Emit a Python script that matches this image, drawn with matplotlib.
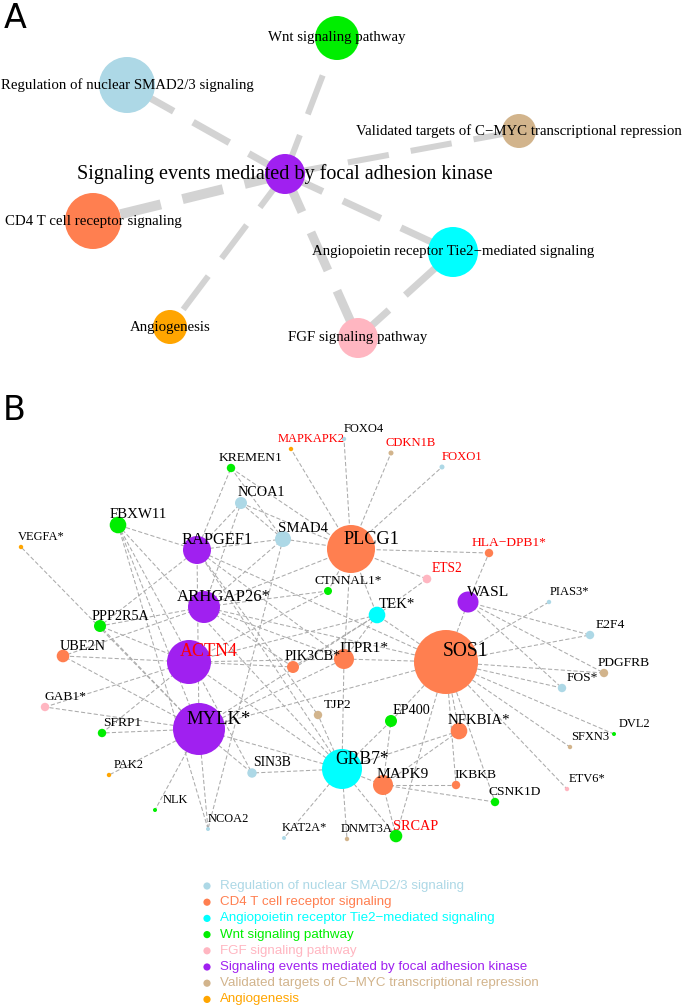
import matplotlib
matplotlib.use("Agg")
import matplotlib.pyplot as plt
from matplotlib.patches import Circle

plt.rcParams['lines.scale_dashes'] = False

# pathways (panel A nodes and legend)
pathways = [
    "Regulation of nuclear SMAD2/3 signaling",
    "CD4 T cell receptor signaling",
    "Angiopoietin receptor Tie2\u2212mediated signaling",
    "Wnt signaling pathway",
    "FGF signaling pathway",
    "Signaling events mediated by focal adhesion kinase",
    "Validated targets of C\u2212MYC transcriptional repression",
    "Angiogenesis",
]
pathway_colors = ["#ADD8E6", "#FF7F50", "#00FFFF", "#00EE00",
                  "#FFB6C1", "#A020F0", "#D2B48C", "#FFA500"]

# panel A layout (pixel coords) and node size
a_x = [127, 93, 453, 337, 358, 285, 519, 170]
a_y = [85, 221, 252, 38, 338, 174, 131, 327]
a_r = [28, 28, 25, 22, 20, 20, 17, 17]
a_edges = [(5, 3, 6), (5, 0, 7), (5, 6, 6), (5, 1, 10),
           (5, 2, 7), (5, 7, 6), (5, 4, 9), (4, 2, 7)]

# panel B genes: name, x, y, size, pathway
genes = ["MAPKAPK2", "FOXO4", "CDKN1B", "FOXO1", "KREMEN1", "NCOA1", "FBXW11",
         "VEGFA*", "SMAD4", "RAPGEF1", "PLCG1", "HLA\u2212DPB1*", "ETS2",
         "CTNNAL1*", "ARHGAP26*", "WASL", "PIAS3*", "TEK*", "PPP2R5A", "E2F4",
         "UBE2N", "ACTN4", "PIK3CB*", "ITPR1*", "SOS1", "PDGFRB", "FOS*",
         "GAB1*", "TJP2", "EP400", "MYLK*", "NFKBIA*", "SFRP1", "DVL2", "SFXN3",
         "GRB7*", "SIN3B", "PAK2", "IKBKB", "MAPK9", "ETV6*", "CSNK1D", "NLK",
         "NCOA2", "SRCAP", "KAT2A*", "DNMT3A"]
g_x = [291, 344, 391, 442, 231, 241, 118, 21, 283, 197, 351, 489, 427,
       328, 204, 468, 549, 377, 100, 590, 63, 189, 293, 344, 446, 604, 562,
       45, 318, 391, 199, 459, 102, 614, 570, 342, 252, 109, 456, 383, 567,
       495, 155, 208, 396, 284, 347]
g_y = [449, 439, 453, 467, 468, 503, 525, 547, 539, 550, 549, 553, 579,
       591, 607, 602, 602, 615, 626, 635, 656, 662, 667, 659, 662, 673, 688,
       707, 715, 721, 729, 731, 733, 734, 747, 769, 773, 775, 785, 785, 789,
       802, 810, 829, 836, 838, 839]
g_size = [2.2, 2.2, 2.5, 2.5, 4.2, 6, 8.3, 2.2, 8, 14, 24, 4.2, 4.3,
          4, 16, 10.5, 2.2, 8.3, 6, 4.2, 6.3, 22, 6, 10, 32, 4.2, 4.2,
          4.2, 4.2, 6, 26, 8.3, 4.2, 2, 2.2, 20, 4.7, 2.2, 4.2, 10, 2.2,
          4.2, 2, 2, 6.3, 2, 2.2]
g_path = [7, 0, 6, 0, 3, 0, 3, 7, 0, 5, 1, 1, 4, 3, 5, 5, 0, 2, 3, 0,
          1, 5, 1, 1, 1, 6, 0, 4, 6, 3, 5, 1, 3, 3, 6, 2, 0, 7, 1, 1, 4,
          3, 3, 0, 3, 0, 6]
red_genes = ["MAPKAPK2", "CDKN1B", "FOXO1", "HLA\u2212DPB1*", "ETS2", "ACTN4", "SRCAP"]

b_edges = [
    ("PLCG1", "MAPKAPK2"), ("PLCG1", "FOXO4"), ("PLCG1", "CDKN1B"), ("PLCG1", "FOXO1"),
    ("PLCG1", "KREMEN1"), ("PLCG1", "NCOA1"), ("PLCG1", "SMAD4"), ("PLCG1", "HLA\u2212DPB1*"),
    ("PLCG1", "ETS2"), ("PLCG1", "ARHGAP26*"), ("PLCG1", "ITPR1*"), ("PLCG1", "TEK*"),
    ("PLCG1", "CTNNAL1*"),
    ("SOS1", "WASL"), ("SOS1", "PIAS3*"), ("SOS1", "E2F4"), ("SOS1", "PDGFRB"),
    ("SOS1", "FOS*"), ("SOS1", "DVL2"), ("SOS1", "SFXN3"), ("SOS1", "ETV6*"),
    ("SOS1", "CSNK1D"), ("SOS1", "IKBKB"), ("SOS1", "NFKBIA*"), ("SOS1", "SRCAP"),
    ("SOS1", "EP400"), ("SOS1", "TEK*"), ("SOS1", "ITPR1*"), ("SOS1", "MYLK*"),
    ("SOS1", "ARHGAP26*"), ("SOS1", "RAPGEF1"),
    ("WASL", "E2F4"), ("WASL", "PDGFRB"), ("WASL", "FOS*"), ("WASL", "HLA\u2212DPB1*"),
    ("NFKBIA*", "GRB7*"), ("NFKBIA*", "MAPK9"),
    ("MAPK9", "GRB7*"), ("MAPK9", "IKBKB"), ("MAPK9", "CSNK1D"), ("MAPK9", "SRCAP"),
    ("MAPK9", "EP400"),
    ("GRB7*", "SIN3B"), ("GRB7*", "KAT2A*"), ("GRB7*", "DNMT3A"), ("GRB7*", "SRCAP"),
    ("GRB7*", "EP400"), ("GRB7*", "TJP2"), ("GRB7*", "ITPR1*"), ("GRB7*", "MYLK*"),
    ("GRB7*", "ACTN4"), ("GRB7*", "RAPGEF1"),
    ("TEK*", "ETS2"), ("TEK*", "ACTN4"), ("TEK*", "MYLK*"), ("TEK*", "ITPR1*"),
    ("RAPGEF1", "FBXW11"), ("RAPGEF1", "SMAD4"), ("RAPGEF1", "NCOA1"), ("RAPGEF1", "KREMEN1"),
    ("RAPGEF1", "PPP2R5A"), ("RAPGEF1", "ITPR1*"), ("RAPGEF1", "TJP2"),
    ("ARHGAP26*", "PPP2R5A"), ("ARHGAP26*", "CTNNAL1*"), ("ARHGAP26*", "SMAD4"),
    ("ARHGAP26*", "NCOA1"), ("ARHGAP26*", "ITPR1*"), ("ARHGAP26*", "UBE2N"),
    ("FBXW11", "GRB7*"), ("FBXW11", "MYLK*"), ("FBXW11", "SIN3B"), ("FBXW11", "NCOA2"),
    ("MYLK*", "GAB1*"), ("MYLK*", "SFRP1"), ("MYLK*", "PAK2"), ("MYLK*", "NLK"),
    ("MYLK*", "NCOA2"), ("MYLK*", "SIN3B"), ("MYLK*", "VEGFA*"), ("MYLK*", "UBE2N"),
    ("MYLK*", "PPP2R5A"), ("MYLK*", "ITPR1*"), ("MYLK*", "RAPGEF1"),
    ("ACTN4", "UBE2N"), ("ACTN4", "PPP2R5A"), ("ACTN4", "GAB1*"), ("ACTN4", "SFRP1"),
    ("ACTN4", "PIK3CB*"), ("ACTN4", "CTNNAL1*"), ("ACTN4", "ITPR1*"),
    ("PIK3CB*", "TEK*"), ("PIK3CB*", "ARHGAP26*"),
    ("SMAD4", "NCOA2"), ("SMAD4", "NCOA1"), ("KREMEN1", "SMAD4"),
]

fig = plt.figure(figsize=(6.85, 10.08), dpi=100)
ax = fig.add_axes([0, 0, 1, 1])
ax.set_xlim(0, 685)
ax.set_ylim(1008, 0)
ax.axis('off')

# ---- panel A ----
for i, j, w in a_edges:
    ax.plot([a_x[i], a_x[j]], [a_y[i], a_y[j]], color='#D3D3D3',
            lw=w * 0.72, dashes=(30, 16), solid_capstyle='butt',
            dash_capstyle='butt', zorder=1)
for k in range(len(pathways)):
    ax.add_patch(Circle((a_x[k], a_y[k]), a_r[k], color=pathway_colors[k], lw=0, zorder=2))
    fs = 14.5 if k == 5 else 10.7
    ax.text(a_x[k], a_y[k], pathways[k], ha='center', va='center',
            fontsize=fs, family='Liberation Serif', zorder=3)

# ---- panel B ----
idx = {g: i for i, g in enumerate(genes)}
for a, b in b_edges:
    i, j = idx[a], idx[b]
    ax.plot([g_x[i], g_x[j]], [g_y[i], g_y[j]], color='#ABABAB',
            lw=0.75, dashes=(3, 1.6), zorder=1)
for i, g in enumerate(genes):
    ax.add_patch(Circle((g_x[i], g_y[i]), g_size[i],
                        color=pathway_colors[g_path[i]], lw=0, zorder=2))
    fs = 7.2 + 1.22 * g_size[i] ** 0.5
    ax.text(g_x[i] + 20, g_y[i] - 10, g, ha='center', va='center',
            fontsize=fs, family='Liberation Serif',
            color='#FF0000' if g in red_genes else 'black', zorder=3)

# ---- legend ----
for k, p in enumerate(pathways):
    ly = 886 + k * 16.2
    ax.add_patch(Circle((207, ly), 3.6, color=pathway_colors[k], lw=0))
    ax.text(220, ly, p, ha='left', va='center', fontsize=9.6,
            family='Liberation Sans', color=pathway_colors[k])

# panel tags
ax.text(4, 18, "A", fontsize=24, family='DejaVu Sans', va='center', ha='left')
ax.text(3, 410, "B", fontsize=24, family='DejaVu Sans', va='center', ha='left')

fig.savefig("out.png", dpi=100)
